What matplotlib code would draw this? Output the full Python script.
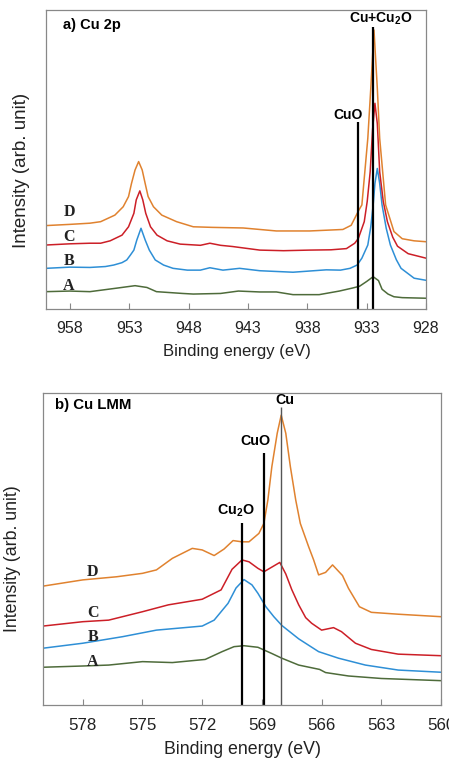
import numpy as np
import matplotlib
matplotlib.use("Agg")
import matplotlib.pyplot as plt

plt.rcParams['font.family'] = ['Liberation Sans', 'DejaVu Sans']
plt.rcParams['mathtext.fontset'] = 'custom'
plt.rcParams['mathtext.bf'] = 'Liberation Sans:bold'
plt.rcParams['mathtext.rm'] = 'Liberation Sans'

# ---- panel a) Cu 2p : binding energy (eV) vs intensity (arb., 0-100 of axis height)
a_x_A = [960, 958, 956.3, 954, 952.5, 951.5, 950.7, 948.5, 947.6, 945.3, 943.8, 942, 940.6,
         939.2, 937, 935.3, 934.2, 933.6, 933.0, 932.45, 932.0, 931.7, 931.2, 930.7, 930, 929, 928]
a_y_A = [5.8, 6.0, 5.8, 7.0, 7.8, 7.2, 5.8, 5.2, 5.0, 5.2, 6.0, 5.7, 5.7,
         4.8, 4.8, 6.0, 7.0, 7.6, 9.2, 10.8, 9.5, 6.6, 5.0, 4.1, 3.8, 3.7, 3.6]

a_x_B = [960, 958, 956.3, 955, 954.3, 953.6, 953.2, 952.9, 952.6, 952.35, 952.0, 951.65, 951.3,
         950.8, 950.1, 949.3, 948.1, 947, 946.2, 945.1, 943.7, 942, 939.2, 936.4, 935.2, 934.4,
         933.8, 933.4, 932.9, 932.65, 932.45, 932.3, 932.1, 931.9, 931.7, 931.35, 931.0,
         930.5, 930.1, 929, 928]
a_y_B = [13.6, 14.0, 13.9, 14.2, 14.7, 15.5, 16.4, 18.0, 19.7, 23.1, 27.0, 23.1, 19.7,
         16.4, 14.7, 13.6, 13.0, 13.0, 13.8, 13.0, 13.6, 12.8, 12.3, 13.1, 13.0, 13.6,
         14.7, 17.0, 21.4, 27.5, 34.8, 42.0, 47.0, 42.0, 34.8, 27.0, 21.4,
         16.5, 13.6, 10.3, 9.6]

a_x_C = [960, 958, 956.3, 955.4, 954.6, 953.6, 953.05, 952.6, 952.4, 952.1, 951.85, 951.6,
         951.2, 950.65, 949.8, 948.7, 947, 946.2, 945.3, 944.3, 942, 940, 937.8, 936, 934.7,
         934.0, 933.7, 933.2, 932.95, 932.7, 932.5, 932.3, 932.1, 931.9, 931.6, 931.25,
         930.8, 930.4, 929.5, 928]
a_y_C = [21.4, 21.8, 22.0, 22.0, 22.8, 24.7, 27.5, 32.0, 36.5, 39.5, 36.5, 32.0,
         27.5, 24.7, 22.8, 21.7, 21.3, 22.0, 21.3, 20.9, 19.7, 19.5, 19.7, 19.8, 20.2,
         22.0, 23.6, 29.2, 36.0, 45.9, 60.0, 68.8, 62.0, 45.9, 36.0, 29.2,
         24.0, 21.0, 18.5, 17.0]

a_x_D = [960, 958, 956.3, 955.4, 954.2, 953.5, 953.05, 952.8, 952.5, 952.2, 951.9, 951.65,
         951.4, 950.95, 950.25, 949.0, 947.6, 946, 943.4, 940.6, 937.8, 935, 934.3, 933.65,
         933.4, 932.9, 932.65, 932.38, 932.1, 931.9, 931.4, 930.7, 930, 929, 928]
a_y_D = [27.9, 28.3, 28.7, 29.2, 31.4, 34.2, 37.6, 42.0, 46.5, 49.3, 46.5, 42.0,
         37.6, 34.2, 31.4, 29.2, 27.5, 27.3, 27.1, 26.1, 26.1, 26.6, 28.0, 33.1,
         34.8, 57.1, 73.8, 93.3, 73.8, 57.1, 34.8, 25.9, 23.5, 22.8, 22.5]

a_marks = [933.75, 932.45]
a_mark_tops = [62.5, 94.4]
a_mark_labels = ['CuO', 'Cu+Cu$_\\mathbf{2}$O']
a_label_pos = [(934.6, 64.9), (931.8, 97.2)]
a_letter_y = [7.8, 16.2, 24.2, 32.3]

# ---- panel b) Cu LMM
b_x_A = [580, 578, 576.7, 575, 573.5, 571.85, 571.0, 570.4, 569.9, 569.2, 568.5, 568, 567.15,
         566.1, 565.8, 564.65, 563, 560]
b_y_A = [12.1, 12.5, 12.8, 13.9, 13.6, 14.6, 17.1, 18.7, 19.0, 18.5, 16.5, 15.0, 12.8,
         11.4, 10.4, 9.3, 8.5, 7.8]

b_x_B = [580, 578, 576, 574.3, 572, 571.4, 570.7, 570.3, 569.9, 569.5, 569.2, 568.8, 568.4,
         568, 567.15, 566.15, 565.15, 563.8, 562.15, 560]
b_y_B = [18.2, 19.8, 21.9, 24.0, 25.3, 27.2, 32.6, 37.5, 40.2, 38.5, 35.8, 31.5, 28.3,
         25.5, 21.2, 17.1, 15.0, 12.8, 11.2, 10.5]

b_x_C = [580, 578, 576.7, 575, 573.7, 572, 571.05, 570.5, 570.0, 569.65, 569.2, 568.9, 568.5,
         568.1, 567.8, 567.5, 567.15, 566.8, 566.5, 566.0, 565.4, 565.0, 564.3, 563.5,
         562.15, 560]
b_y_C = [25.3, 26.7, 27.2, 29.9, 32.1, 33.9, 36.9, 43.5, 46.5, 45.9, 43.8, 42.7, 44.2,
         45.7, 42.0, 37.0, 32.1, 28.0, 26.2, 24.0, 24.8, 23.5, 19.8, 17.8,
         16.3, 15.8]

b_x_D = [580, 578, 576.3, 575, 574.3, 573.5, 572.5, 572.0, 571.4, 570.9, 570.45, 570.0, 569.65,
         569.15, 568.9, 568.7, 568.5, 568.23, 568.03, 567.8, 567.57, 567.3, 567.07, 566.65,
         566.4, 566.15, 565.8, 565.45, 564.95, 564.65, 564.1, 563.5, 562.15, 560]
b_y_D = [38.1, 40.1, 41.1, 42.2, 43.3, 47.0, 50.2, 49.7, 47.9, 50.0, 52.7, 52.3, 52.3,
         55.0, 58.2, 65.7, 76.4, 87.1, 92.9, 87.1, 76.4, 65.7, 58.2, 50.7,
         46.5, 41.7, 42.5, 44.9, 41.5, 37.4, 31.5, 29.7, 29.1, 28.3]

b_marks = [570.0, 568.87, 568.03]
b_mark_tops = [58.2, 80.9, 95.6]
b_mark_labels = ['Cu$_\\mathbf{2}$O', 'CuO', 'Cu']
b_label_pos = [(570.3, 62.2), (569.3, 84.6), (567.87, 97.8)]
b_letter_y = [13.9, 21.7, 29.4, 42.7]

letters = ['A', 'B', 'C', 'D']
colours = ['#4E6B3A', '#2E8FD6', '#CC1F27', '#E0822F']

fig = plt.figure(figsize=(4.49, 7.62), dpi=100)
ax1 = fig.add_axes([46/449, 1-309/762, 380/449, 299/762])
ax2 = fig.add_axes([43/449, 1-705/762, 398/449, 312/762])


def style(ax, xlim, ticks, fs):
    ax.set_xlim(*xlim)
    ax.set_ylim(0, 100)
    ax.set_yticks([])
    ax.set_xticks(ticks)
    ax.tick_params(axis='x', direction='in', length=4, width=0.8, color='#888888',
                   pad=9, labelsize=fs, labelcolor='#222222')
    for s in ax.spines.values():
        s.set_color('#888888')
        s.set_linewidth(0.9)


# panel a
for xs, ys, c in zip([a_x_A, a_x_B, a_x_C, a_x_D], [a_y_A, a_y_B, a_y_C, a_y_D], colours):
    ax1.plot(xs, ys, color=c, lw=1.1, solid_joinstyle='round')
ax1.vlines(a_marks, 0, a_mark_tops, colors='black', lw=1.6)
for lab, (x, y) in zip(a_mark_labels, a_label_pos):
    ax1.text(x, y, lab, ha='center', va='center', fontsize=10, fontweight='bold')
for l, y in zip(letters, a_letter_y):
    ax1.text(958.06, y, l, ha='center', va='center', fontsize=11.5, fontweight='bold',
             family='Liberation Serif', color='#222222')
ax1.text(958.6, 95, 'a) Cu 2p', ha='left', va='center', fontsize=10.5, fontweight='bold')
style(ax1, (960, 928), [958, 953, 948, 943, 938, 933, 928], 11.5)
ax1.set_xlabel('Binding energy (eV)', fontsize=12, color='#222222')
ax1.xaxis.set_label_coords(0.502, -0.143)
ax1.xaxis.label.set_va('center')
ax1.set_ylabel('Intensity (arb. unit)', fontsize=13.5, color='#222222', va='center')
ax1.yaxis.set_label_coords(-0.064, 0.465)

# panel b
for xs, ys, c in zip([b_x_A, b_x_B, b_x_C, b_x_D], [b_y_A, b_y_B, b_y_C, b_y_D], colours):
    ax2.plot(xs, ys, color=c, lw=1.1, solid_joinstyle='round')
ax2.vlines(b_marks[:2], 0, b_mark_tops[:2], colors='black', lw=1.6)
ax2.vlines(b_marks[2:], 0, b_mark_tops[2:], colors='#555555', lw=1.0)
for lab, (x, y) in zip(b_mark_labels, b_label_pos):
    ax2.text(x, y, lab, ha='center', va='center', fontsize=10.3, fontweight='bold')
for l, y in zip(letters, b_letter_y):
    ax2.text(577.5, y, l, ha='center', va='center', fontsize=11.5, fontweight='bold',
             family='Liberation Serif', color='#222222')
ax2.text(579.4, 96.2, 'b) Cu LMM', ha='left', va='center', fontsize=10.8, fontweight='bold')
style(ax2, (580, 560), [578, 575, 572, 569, 566, 563, 560], 12.2)
ax2.set_xlabel('Binding energy (eV)', fontsize=12.8, color='#222222')
ax2.xaxis.set_label_coords(0.5, -0.144)
ax2.xaxis.label.set_va('center')
ax2.set_ylabel('Intensity (arb. unit)', fontsize=12.8, color='#222222', va='center')
ax2.yaxis.set_label_coords(-0.076, 0.47)

fig.savefig('out.png', dpi=100)
